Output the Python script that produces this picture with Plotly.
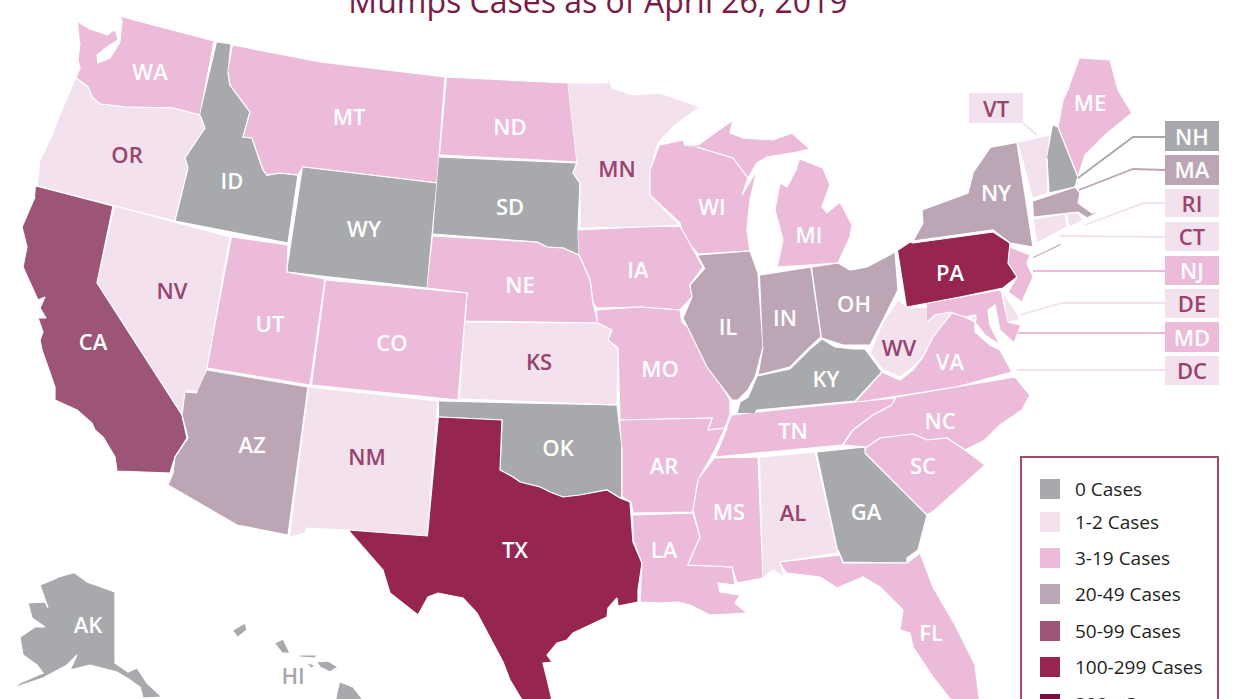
import plotly.graph_objects as go

# Topojson cannot be loaded offline, so the state outlines are read off the picture (pixel-like map units).
TITLE = "Mumps Cases as of April 26, 2019"
CATEGORIES = ["0 Cases", "1-2 Cases", "3-19 Cases", "20-49 Cases", "50-99 Cases", "100-299 Cases", "300+ Cases"]
COLORS = ["#a7a9ac", "#f3e1ed", "#ebbbd9", "#bca5b5", "#9d5577", "#96264f", "#780f3c"]
LEGEND_Y = [489, 522, 558, 594, 631, 667, 704]

WA = [(78,22),(90,29),(108,35),(112,31),(116,31),(118,40),(107,47),(97,55),(98,63),(110,58),(120,42),(122,20),(119,16),(214,41),(200,115),(173,108),(125,107),(100,104),(92,97),(88,87),(76,78),(80,68),(78,60),(80,43)]
OR = [(76,78),(88,87),(92,97),(100,104),(125,107),(173,108),(200,115),(205,128),(185,158),(188,168),(175,221),(37,186),(40,160),(53,133)]
ID = [(217,42),(231,44),(228,72),(230,85),(250,112),(243,137),(252,138),(263,170),(267,175),(280,173),(298,175),(288,243),(175,221),(188,168),(185,158),(205,128),(200,115)]
MT = [(233,45),(320,62),(445,77),(437,183),(303,167),(298,175),(280,173),(267,175),(263,170),(252,138),(243,137),(250,112),(230,85),(228,72)]
WY = [(303,167),(437,183),(427,288),(287,272)]
ND = [(447,77),(568,83),(577,162),(440,155)]
SD = [(439,157),(577,163),(573,173),(580,183),(578,230),(579,255),(563,248),(547,247),(537,242),(433,234)]
MN = [(568,83),(607,83),(607,75),(612,88),(633,95),(660,93),(680,100),(700,107),(675,125),(658,143),(650,172),(650,195),(680,225),(640,227),(580,228),(580,183),(573,173),(577,162)]
WI = [(660,145),(683,140),(685,145),(697,147),(733,158),(748,178),(742,195),(757,170),(750,200),(747,230),(750,251),(698,254),(683,237),(680,223),(650,195),(650,172)]
MI = [(685,145),(698,145),(733,120),(730,133),(743,138),(773,140),(792,133),(810,149),(797,152),(767,157),(757,163),(748,178),(733,158),(697,147),None,(800,159),(823,168),(830,185),(822,207),(827,213),(840,202),(852,225),(850,237),(838,263),(777,267),(783,240),(775,210),(780,183),(787,187),(797,168)]
IA = [(578,230),(640,227),(680,226),(703,267),(690,285),(692,297),(680,310),(640,307),(597,308),(593,303),(590,280),(579,255)]
NE = [(433,236),(537,242),(547,247),(563,248),(579,255),(590,280),(593,303),(598,323),(465,321),(467,293),(427,288)]
CO = [(326,280),(467,293),(458,400),(312,385)]
UT = [(232,237),(288,245),(287,272),(325,279),(310,385),(207,368)]
NV = [(115,206),(230,237),(207,368),(200,393),(188,390),(185,397),(182,415),(97,283)]
CA = [(36,186),(113,206),(97,283),(182,415),(187,438),(175,457),(170,473),(117,471),(115,457),(103,437),(95,430),(92,423),(77,410),(55,400),(55,387),(42,350),(40,340),(43,332),(38,318),(46,318),(40,308),(45,297),(38,300),(23,267),(27,247),(22,227),(35,197)]
AZ = [(207,370),(308,387),(288,535),(237,525),(168,485),(173,473),(175,457),(188,438),(182,415),(185,392),(197,393)]
NM = [(309,387),(438,401),(427,536),(348,530),(307,528),(305,533),(290,537)]
TX = [(439,417),(502,420),(500,470),(513,477),(520,482),(540,487),(550,492),(563,497),(580,495),(607,490),(620,498),(630,502),(633,542),(642,563),(638,590),(638,602),(618,606),(617,598),(608,608),(607,617),(573,633),(567,640),(557,643),(547,655),(552,662),(543,663),(548,683),(553,705),(525,705),(510,680),(503,662),(477,613),(463,598),(438,593),(428,597),(418,615),(390,593),(383,570),(348,530),(428,536)]
OK = [(439,401),(617,405),(622,447),(622,497),(620,498),(607,490),(580,495),(563,497),(550,492),(540,487),(520,482),(513,477),(500,470),(502,420),(439,417)]
KS = [(465,322),(598,323),(612,330),(608,340),(618,348),(617,405),(460,399)]
MO = [(597,310),(640,307),(680,310),(682,322),(698,337),(708,363),(730,400),(730,415),(725,428),(708,430),(712,418),(620,420),(618,348),(608,340),(612,330),(598,323)]
AR = [(620,420),(712,418),(708,430),(725,428),(715,450),(698,480),(693,512),(633,513),(631,502),(622,497),(622,447)]
LA = [(633,515),(693,513),(700,537),(688,565),(732,567),(735,585),(718,583),(720,592),(740,595),(735,603),(747,613),(710,615),(690,605),(678,602),(660,603),(640,602),(642,563),(634,542)]
MS = [(715,458),(758,457),(763,578),(737,583),(732,567),(688,565),(700,537),(693,510),(698,480)]
AL = [(760,457),(815,452),(838,553),(780,562),(785,578),(773,570),(763,578)]
GA = [(817,452),(865,447),(865,453),(927,515),(918,550),(907,558),(907,563),(843,562),(838,550)]
FL = [(780,562),(840,555),(843,563),(907,563),(920,553),(933,587),(955,625),(975,665),(980,705),(955,705),(933,677),(913,647),(910,633),(900,630),(903,610),(880,587),(863,577),(837,588),(820,577),(787,573)]
TN = [(732,415),(757,412),(895,398),(892,405),(873,415),(853,430),(842,445),(715,457),(727,428)]
KY = [(737,413),(740,402),(748,397),(757,376),(790,369),(810,349),(822,339),(835,347),(853,349),(865,349),(882,372),(855,401),(757,410),(755,413)]
IL = [(698,255),(750,251),(758,273),(763,347),(757,370),(755,377),(748,390),(738,400),(732,400),(707,367),(683,318),(692,297),(690,285),(705,268)]
IN = [(760,275),(811,267),(821,337),(810,347),(790,367),(758,375),(763,347)]
OH = [(812,267),(838,263),(850,270),(867,267),(895,252),(898,290),(883,320),(870,345),(843,345),(822,338)]
PA = [(898,250),(910,242),(913,243),(993,232),(1010,243),(1008,263),(1017,277),(1003,288),(960,297),(907,307)]
NY = [(1017,143),(1033,247),(1010,243),(993,230),(913,241),(923,223),(922,210),(968,193),(973,173),(970,177),(990,148),None,(1032,257),(1063,242),(1060,246),(1035,258)]
VT = [(1018,142),(1050,135),(1047,160),(1048,193),(1033,198)]
NH = [(1053,125),(1058,127),(1078,177),(1075,187),(1049,193),(1047,158)]
ME = [(1080,58),(1110,60),(1118,90),(1132,113),(1105,135),(1085,155),(1078,177),(1058,127),(1063,100),(1070,85)]
MA = [(1033,201),(1075,187),(1080,193),(1078,203),(1092,213),(1102,210),(1093,215),(1087,218),(1078,212),(1034,217)]
CT = [(1034,219),(1065,214),(1067,227),(1037,243)]
RI = [(1067,213),(1078,213),(1083,220),(1070,227)]
NJ = [(1010,247),(1030,255),(1027,263),(1033,277),(1022,302),(1008,292),(1017,277),(1008,263)]
DE = [(1003,293),(1017,313),(1020,320),(1008,322)]
MD = [(927,303),(1001,290),(1008,322),(1021,325),(1014,343),(1000,330),(995,305),(988,310),(990,325),(1000,345),(985,335),(975,322),(975,315),(965,317),(950,312),(935,315),(927,322)]
WV = [(907,308),(928,307),(930,318),(948,308),(952,313),(933,337),(923,357),(913,367),(900,377),(883,370),(870,353),(883,322),(898,300)]
VA = [(855,402),(882,372),(900,380),(913,370),(923,357),(933,337),(952,313),(965,317),(975,322),(975,332),(990,345),(1000,350),(1012,372),(960,386)]
DC = [(972,316),(976,316),(976,320),(972,320)]
NC = [(897,397),(1015,377),(1030,395),(1022,410),(1000,425),(985,440),(965,450),(947,438),(927,440),(913,434),(880,438),(867,447),(843,445),(853,430),(873,415),(892,405)]
SC = [(867,447),(880,438),(913,434),(927,440),(947,438),(965,450),(985,465),(960,488),(935,510),(927,515),(865,453)]
AK = [(75,573),(87,582),(115,592),(115,663),(128,672),(137,668),(147,683),(162,697),(143,698),(140,687),(130,680),(117,672),(90,665),(70,670),(77,655),(67,665),(43,678),(13,688),(20,683),(43,673),(37,665),(23,655),(20,637),(35,627),(45,627),(32,618),(28,603),(45,602),(48,608),(40,585),(57,578)]
HI = [(233,630),(245,623),(247,630),(238,637),None,(275,643),(283,639),(290,653),(283,653),None,(300,655),(317,655),(315,658),(300,657),None,(307,663),(315,665),(312,668),None,(317,662),(328,661),(338,667),(330,672),(322,668),None,(340,682),(353,687),(367,705),(335,705)]

STATES = ["WA","OR","ID","MT","WY","ND","SD","MN","WI","MI","IA","NE","CO","UT","NV","CA","AZ","NM","OK","TX","KS","MO","AR","LA","MS","AL","GA","FL","TN","KY","IL","IN","OH","WV","VA","NC","SC","MD","DC","DE","NJ","PA","NY","VT","NH","ME","MA","CT","RI","AK","HI"]
OUTLINES = [WA,OR,ID,MT,WY,ND,SD,MN,WI,MI,IA,NE,CO,UT,NV,CA,AZ,NM,OK,TX,KS,MO,AR,LA,MS,AL,GA,FL,TN,KY,IL,IN,OH,WV,VA,NC,SC,MD,DC,DE,NJ,PA,NY,VT,NH,ME,MA,CT,RI,AK,HI]
BINS = [2,1,0,2,0,2,0,1,2,2,2,2,2,2,1,4,3,1,0,5,1,2,2,2,2,1,0,2,2,0,3,3,3,1,2,2,2,2,1,1,2,5,3,1,0,2,3,1,1,0,0]

LABEL_X = [150,127,232,349,364,510,510,617,712,809,638,520,392,270,172,93,252,367,558,515,539,660,664,664,729,793,866,931,793,826,728,785,854,899,950,940,923,1192,1192,1192,1192,950,996,996,1192,1090,1192,1192,1192,88,293]
LABEL_Y = [74,157,183,119,231,129,209,171,209,237,272,287,345,326,293,344,447,459,450,552,364,371,468,552,514,515,514,635,433,381,329,320,306,350,364,423,468,340,373,306,273,275,195,111,139,105,172,239,206,627,678]

BOX_STATES = ["VT","NH","MA","RI","CT","NJ","DE","MD","DC"]
BOX_X0 = [969,1165,1165,1165,1165,1165,1165,1165,1165]
BOX_X1 = [1023,1219,1219,1219,1219,1219,1219,1219,1219]
BOX_Y0 = [93,121,155,189,222,256,289,322,356]
BOX_Y1 = [123,151,185,217,251,285,318,352,385]
LEADER_X = [[1023,1037],[1165,1133,1078],[1165,1133,1079],[1165,1144,1085],[1165,1060],[1165,1033],[1165,1062,1020],[1165,1018],[1165,1017]]
LEADER_Y = [[123,135],[137,137,178],[170,169,190],[203,203,225],[237,236],[271,271],[303,303,315],[333,333],[370,370]]

fig = go.Figure()
for name, outline, b in zip(STATES, OUTLINES, BINS):
    xs = [p[0] if p else None for p in outline]
    ys = [p[1] if p else None for p in outline]
    fig.add_trace(go.Scatter(x=xs, y=ys, mode="lines", fill="toself", fillcolor=COLORS[b], name=name,
                             line=dict(color="white", width=1.2), hoverinfo="name", showlegend=False))

shapes = []
for s, x0, x1, y0, y1, lx, ly in zip(BOX_STATES, BOX_X0, BOX_X1, BOX_Y0, BOX_Y1, LEADER_X, LEADER_Y):
    c = COLORS[BINS[STATES.index(s)]]
    shapes.append(dict(type="rect", x0=x0, x1=x1, y0=y0, y1=y1, fillcolor=c, line_width=0, layer="below"))
    fig.add_trace(go.Scatter(x=lx, y=ly, mode="lines", line=dict(color=c, width=1.8), hoverinfo="skip", showlegend=False))

shapes.append(dict(type="rect", x0=1021, x1=1218, y0=457, y1=760, line=dict(color="#a4486f", width=2), fillcolor="rgba(0,0,0,0)"))

def label_color(b, s):
    if s == "HI":
        return COLORS[0]
    return "#98436d" if b == 1 else "white"

fig.add_trace(go.Scatter(x=LABEL_X, y=LABEL_Y, mode="text", text=STATES,
                         textfont=dict(family="Open Sans", size=22, weight=600,
                                       color=[label_color(b, s) for b, s in zip(BINS, STATES)]),
                         textposition="middle center", hoverinfo="skip", showlegend=False))

fig.add_trace(go.Scatter(x=[1050]*len(CATEGORIES), y=LEGEND_Y, mode="markers",
                         marker=dict(symbol="square", size=20, color=COLORS, line_width=0),
                         hoverinfo="skip", showlegend=False))
fig.add_trace(go.Scatter(x=[1075]*len(CATEGORIES), y=[v + 2 for v in LEGEND_Y], mode="text", text=CATEGORIES,
                         textfont=dict(family="Open Sans", size=19, color="#231f20"),
                         textposition="middle right", hoverinfo="skip", showlegend=False))

fig.update_layout(
    width=1245, height=699, margin=dict(l=0, r=0, t=0, b=0),
    paper_bgcolor="white", plot_bgcolor="white", shapes=shapes,
    title=dict(text=TITLE, x=598/1245, xanchor="center", y=0.997, yanchor="middle",
               font=dict(family="Open Sans", size=32, color="#7a1a45")),
    xaxis=dict(range=[0, 1245], visible=False, fixedrange=True),
    yaxis=dict(range=[699, 0], visible=False, fixedrange=True),
)
fig.write_html("out.html", config=dict(displayModeBar=False),
               post_script="document.body.style.margin='0';document.body.style.overflow='hidden';")
